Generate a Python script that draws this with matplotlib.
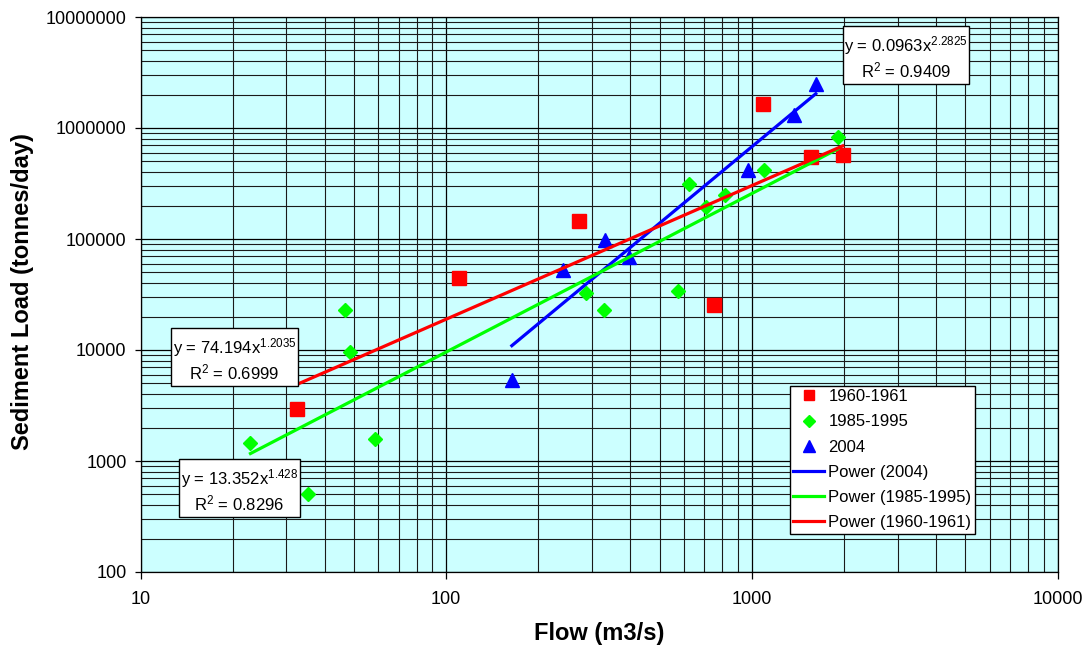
import matplotlib
matplotlib.use("Agg")
import matplotlib.pyplot as plt
import numpy as np
from matplotlib.ticker import FixedLocator, FixedFormatter, LogLocator, NullFormatter
from matplotlib.patches import Rectangle

plt.rcParams['font.family'] = ['Liberation Sans', 'DejaVu Sans']
plt.rcParams['mathtext.fontset'] = 'custom'
plt.rcParams['mathtext.rm'] = 'Liberation Sans'
plt.rcParams['mathtext.it'] = 'Liberation Sans:italic'
plt.rcParams['mathtext.bf'] = 'Liberation Sans:bold'

# ---- data ----
flow_1960 = [32.6, 110, 272, 751, 1086, 1560, 1983]
load_1960 = [2940, 44500, 145000, 25400, 1650000, 548000, 570000]

flow_1985 = [22.9, 35.4, 46.8, 48.6, 58.6, 287, 328, 573, 622, 708, 816, 1094, 1910]
load_1985 = [1450, 505, 22900, 9600, 1580, 32600, 22900, 34000, 312000, 194000, 249000, 418000, 830000]

flow_2004 = [164, 242, 330, 396, 970, 1379, 1619]
load_2004 = [5370, 52200, 97300, 68800, 419000, 1300000, 2490000]

# power trendline coefficients as labelled on the chart: y = a * x^b
fit_2004 = (0.0963, 2.2825, 0.9409)
fit_1985 = (13.352, 1.428, 0.8296)
fit_1960 = (74.194, 1.2035, 0.6999)

x_ticks = [10, 100, 1000, 10000]
x_tick_labels = ["10", "100", "1000", "10000"]
y_ticks = [100, 1000, 10000, 100000, 1000000, 10000000]
y_tick_labels = ["100", "1000", "10000", "100000", "1000000", "10000000"]

RED = "#FF0000"
GREEN = "#00FF00"
BLUE = "#0000FF"

W, H = 1087, 650
fig = plt.figure(figsize=(W / 100, H / 100), dpi=100)
L, R, T, B = 140.5, 1057.5, 17, 572
ax = fig.add_axes([L / W, 1 - B / H, (R - L) / W, (B - T) / H])
ax.set_facecolor("#CCFFFF")
ax.set_xscale("log")
ax.set_yscale("log")
ax.set_xlim(10, 10000)
ax.set_ylim(100, 10000000)

ax.xaxis.set_major_locator(FixedLocator(x_ticks))
ax.xaxis.set_major_formatter(FixedFormatter(x_tick_labels))
ax.yaxis.set_major_locator(FixedLocator(y_ticks))
ax.yaxis.set_major_formatter(FixedFormatter(y_tick_labels))
ax.xaxis.set_minor_locator(LogLocator(base=10, subs=np.arange(2, 10)))
ax.yaxis.set_minor_locator(LogLocator(base=10, subs=np.arange(2, 10)))
ax.xaxis.set_minor_formatter(NullFormatter())
ax.yaxis.set_minor_formatter(NullFormatter())

ax.grid(True, which="major", color="black", linewidth=0.9)
ax.grid(True, which="minor", color="#1a1a1a", linewidth=0.8)
ax.set_axisbelow(True)
ax.tick_params(which="major", direction="out", length=4, width=0.9, labelsize=13)
ax.tick_params(axis="x", which="major", pad=8.5, length=5)
ax.tick_params(axis="y", which="major", pad=6)
ax.tick_params(which="minor", length=0)
for s in ax.spines.values():
    s.set_color("black")
    s.set_linewidth(0.9)

# scatter series
h1, = ax.plot(flow_1960, load_1960, linestyle="none", marker="s", ms=9.5,
              color=RED, mec=RED, label="1960-1961", zorder=3)
h2, = ax.plot(flow_1985, load_1985, linestyle="none", marker="D", ms=7.6,
              color=GREEN, mec=GREEN, label="1985-1995", zorder=3)
h3, = ax.plot(flow_2004, load_2004, linestyle="none", marker="^", ms=10.5,
              color=BLUE, mec=BLUE, label="2004", zorder=3)

# trendlines
def trend(xs, fit):
    xx = np.logspace(np.log10(min(xs)), np.log10(max(xs)), 50)
    return xx, fit[0] * xx ** fit[1]

xx, yy = trend(flow_2004, fit_2004)
t3, = ax.plot(xx, yy, color=BLUE, lw=2.3, label="Power (2004)", zorder=4)
xx, yy = trend(flow_1985, fit_1985)
t2, = ax.plot(xx, yy, color=GREEN, lw=2.3, label="Power (1985-1995)", zorder=4)
xx, yy = trend(flow_1960, fit_1960)
t1, = ax.plot(xx, yy, color=RED, lw=2.3, label="Power (1960-1961)", zorder=4)

ax.set_xlabel("Flow (m3/s)", fontsize=17, fontweight="bold")
ax.set_ylabel("Sediment Load (tonnes/day)", fontsize=17, fontweight="bold")
ax.xaxis.set_label_coords(0.5, (B - 622) / (B - T))
ax.yaxis.set_label_coords((34 - L) / (R - L), 0.5045)

leg = ax.legend(handles=[h1, h2, h3, t3, t2, t1], loc="upper left",
                bbox_to_anchor=(790 / W, 1 - 386 / H), bbox_transform=fig.transFigure,
                borderaxespad=0, fontsize=12, frameon=True, fancybox=False,
                edgecolor="black", framealpha=1, markerscale=0.8,
                handlelength=1.85, handletextpad=0.25, labelspacing=0.61,
                borderpad=0.2)
leg.get_frame().set_linewidth(1.0)
leg.set_zorder(10)

# trendline equation boxes (figure pixel positions)
def eq_box(x0, y0, x1, y1, fit, l1y, l2y):
    rect = Rectangle((x0 / W, 1 - y1 / H), (x1 - x0) / W, (y1 - y0) / H,
                     transform=fig.transFigure, facecolor="white",
                     edgecolor="black", linewidth=1.0, zorder=10)
    fig.patches.append(rect)
    cx = (x0 + x1) / 2 / W
    a, b, r2 = fit
    fig.text(cx, 1 - l1y / H, "y = %gx$^{%g}$" % (a, b), ha="center", va="center",
             fontsize=12, zorder=11)
    fig.text(cx, 1 - l2y / H, "R$^{2}$ = %g" % r2, ha="center", va="center",
             fontsize=12, zorder=11)

eq_box(843, 26, 969, 84, fit_2004, 46, 70)
eq_box(171, 328, 298, 386, fit_1960, 348, 372)
eq_box(179, 459, 300, 517, fit_1985, 479, 503)

fig.savefig("out.png", dpi=100)
